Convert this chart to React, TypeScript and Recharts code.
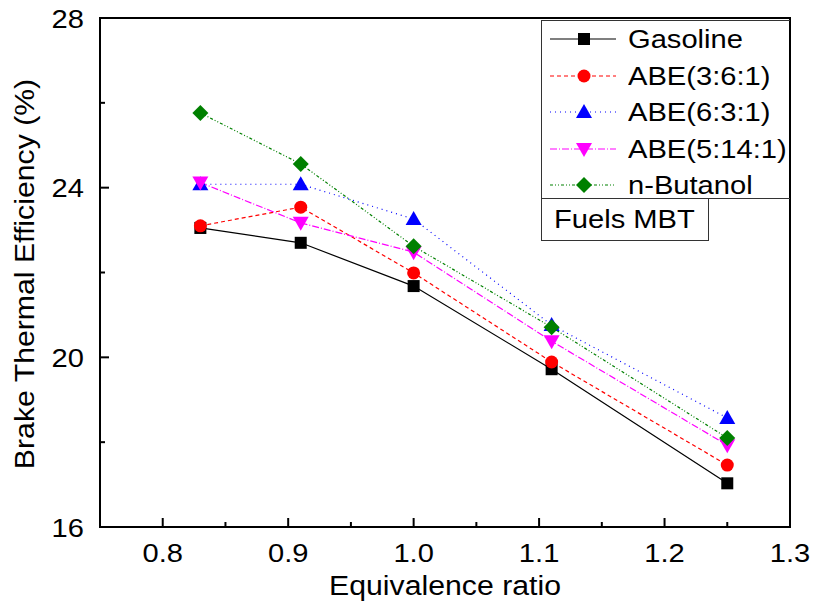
import React from "react";
import {
  LineChart, Line, XAxis, YAxis, ReferenceArea,
} from "recharts";

const phi = [0.83, 0.91, 1.0, 1.11, 1.25];
const gasoline = [23.05, 22.7, 21.68, 19.72, 17.03];
const abe361 = [23.1, 23.54, 21.99, 19.89, 17.46];
const abe631 = [24.08, 24.08, 23.26, 20.76, 18.57];
const abe5141 = [24.12, 23.17, 22.48, 20.38, 17.93];
const butanol = [25.76, 24.56, 22.62, 20.71, 18.1];

const xTicks = [0.8, 0.85, 0.9, 0.95, 1.0, 1.05, 1.1, 1.15, 1.2, 1.25, 1.3];
const yTicks = [16, 18, 20, 22, 24, 26, 28];
const yMajor = [16, 20, 24, 28];

const FONT = "'Liberation Sans', Arial, sans-serif";
const WIDE = 1.12; // the original text is drawn a bit wider than Arial

const data = phi.map((p, i) => ({
  phi: p,
  gasoline: gasoline[i],
  abe361: abe361[i],
  abe631: abe631[i],
  abe5141: abe5141[i],
  butanol: butanol[i],
}));

type Shape = "square" | "circle" | "up" | "down" | "diamond";

function Marker({ cx, cy, shape, color }: { cx: number; cy: number; shape: Shape; color: string }) {
  if (cx == null || cy == null) return null;
  switch (shape) {
    case "square":
      return <rect x={cx - 6} y={cy - 6} width={12} height={12} fill={color} />;
    case "circle":
      return <circle cx={cx} cy={cy} r={6.5} fill={color} />;
    case "up":
      return <polygon points={`${cx},${cy - 8} ${cx + 8},${cy + 6} ${cx - 8},${cy + 6}`} fill={color} />;
    case "down":
      return <polygon points={`${cx},${cy + 8} ${cx + 8},${cy - 6} ${cx - 8},${cy - 6}`} fill={color} />;
    default:
      return <polygon points={`${cx},${cy - 8} ${cx + 8},${cy} ${cx},${cy + 8} ${cx - 8},${cy}`} fill={color} />;
  }
}

const series = [
  { key: "gasoline", name: "Gasoline", color: "#000000", dash: undefined, shape: "square" as Shape },
  { key: "abe361", name: "ABE(3:6:1)", color: "#FF0000", dash: "4 3", shape: "circle" as Shape },
  { key: "abe631", name: "ABE(6:3:1)", color: "#0000FF", dash: "1 4", shape: "up" as Shape },
  { key: "abe5141", name: "ABE(5:14:1)", color: "#FF00FF", dash: "7 2 1 2", shape: "down" as Shape },
  { key: "butanol", name: "n-Butanol", color: "#008000", dash: "3 2 1 2 1 2", shape: "diamond" as Shape },
];

function WideText({ x, y, anchor, size, rotate = 0, children }: any) {
  return (
    <g transform={`translate(${x},${y}) rotate(${rotate}) scale(${WIDE},1)`}>
      <text x={0} y={0} textAnchor={anchor} fontSize={size} fontFamily={FONT} fill="#000">
        {children}
      </text>
    </g>
  );
}

function XTick({ x, y, payload }: any) {
  const v = payload.value;
  const major = Math.abs(v * 10 - Math.round(v * 10)) < 1e-6;
  return (
    <g>
      <line x1={x} x2={x} y1={y} y2={y - (major ? 9 : 5)} stroke="#000" strokeWidth={2} />
      {major && (
        <WideText x={x} y={y + 35} anchor="middle" size={26}>
          {v.toFixed(1)}
        </WideText>
      )}
    </g>
  );
}

function YTick({ x, y, payload }: any) {
  const v = payload.value;
  const major = yMajor.includes(v);
  return (
    <g>
      <line x1={x} x2={x + (major ? 9 : 5)} y1={y} y2={y} stroke="#000" strokeWidth={2} />
      {major && (
        <WideText x={x - 16} y={y + 9.5} anchor="end" size={26}>
          {v}
        </WideText>
      )}
    </g>
  );
}

function LegendBox() {
  return (
    <div style={{ position: "absolute", left: 541, top: 20, fontFamily: FONT }}>
      <div style={{ border: "1.5px solid #333", borderRight: "none", width: 249, height: 179, boxSizing: "border-box" }}>
        {series.map((s) => (
          <div key={s.key} style={{ display: "flex", alignItems: "center", height: 36.5 }}>
            <svg width={86} height={20} style={{ flex: "none" }}>
              <line x1={8} x2={74} y1={10} y2={10} stroke={s.color} strokeWidth={1.2} strokeDasharray={s.dash} />
              <Marker cx={42} cy={10} shape={s.shape} color={s.color} />
            </svg>
            <span style={{ fontSize: 26, color: "#000", lineHeight: "28px", display: "inline-block", transform: `scaleX(${WIDE})`, transformOrigin: "left center", whiteSpace: "nowrap" }}>
              {s.name}
            </span>
          </div>
        ))}
      </div>
      <div style={{ border: "1.5px solid #333", borderTop: "none", width: 168, height: 42, boxSizing: "border-box", paddingLeft: 12, paddingTop: 5 }}>
        <span style={{ fontSize: 26, lineHeight: "30px", display: "inline-block", transform: `scaleX(${WIDE})`, transformOrigin: "left center", whiteSpace: "nowrap" }}>
          Fuels MBT
        </span>
      </div>
    </div>
  );
}

export default function App() {
  return (
    <div style={{ position: "absolute", left: 0, top: 0, width: 817, height: 607, background: "#fff" }}>
      <LineChart width={817} height={607} data={data} margin={{ top: 18, right: 27, bottom: 0, left: 0 }}>
        <XAxis
          dataKey="phi"
          type="number"
          domain={[0.75, 1.3]}
          ticks={xTicks}
          interval={0}
          height={80}
          axisLine={false}
          tickLine={false}
          tickSize={0}
          tickMargin={0}
          tick={<XTick />}
          allowDataOverflow
        />
        <YAxis
          type="number"
          domain={[16, 28]}
          ticks={yTicks}
          interval={0}
          width={100}
          axisLine={false}
          tickLine={false}
          tickSize={0}
          tickMargin={0}
          tick={<YTick />}
          allowDataOverflow
        />
        <ReferenceArea x1={0.75} x2={1.3} y1={16} y2={28} fill="none" fillOpacity={0} stroke="#000" strokeWidth={2} />
        {series.map((s) => (
          <Line
            key={s.key}
            dataKey={s.key}
            name={s.name}
            stroke={s.color}
            strokeWidth={1.2}
            strokeDasharray={s.dash}
            isAnimationActive={false}
            dot={(p: any) => <Marker key={`${s.key}-${p.index}`} cx={p.cx} cy={p.cy} shape={s.shape} color={s.color} />}
            activeDot={false}
          />
        ))}
        <WideText x={445} y={595} anchor="middle" size={27}>
          Equivalence ratio
        </WideText>
        <WideText x={34} y={274} anchor="middle" size={27} rotate={-90}>
          Brake Thermal Efficiency (%)
        </WideText>
      </LineChart>
      <LegendBox />
    </div>
  );
}
